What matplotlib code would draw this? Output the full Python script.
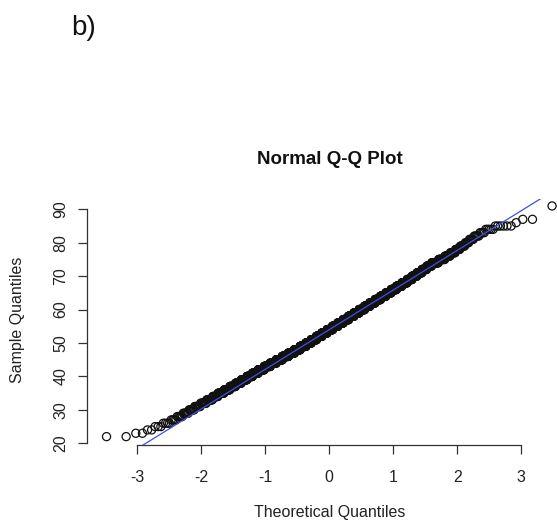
import numpy as np
import matplotlib
matplotlib.use("Agg")
import matplotlib.pyplot as plt
from statistics import NormalDist

sample_values = list(range(22, 92))
sample_counts = [2, 2, 2, 3, 4, 4, 5, 6, 7, 9,
                 11, 13, 14, 18, 20, 23, 26, 29, 32, 37,
                 42, 47, 51, 56, 60, 62, 64, 65, 63, 64,
                 66, 66, 67, 66, 66, 64, 63, 60, 59, 55,
                 53, 50, 47, 43, 40, 37, 33, 28, 25, 23,
                 20, 18, 22, 17, 12, 10, 8, 7, 5, 5,
                 5, 4, 5, 6, 1, 2, 0, 0, 0, 1]
x_ticks = [-3, -2, -1, 0, 1, 2, 3]
y_ticks = [20, 30, 40, 50, 60, 70, 80, 90]

plt.rcParams['font.family'] = ['Liberation Sans', 'DejaVu Sans']
txt = '#222222'

sample = np.repeat(sample_values, sample_counts).astype(float)
n = len(sample)
nd = NormalDist()
# R's ppoints for n > 10
theo = np.array([nd.inv_cdf((i - 0.5) / n) for i in range(1, n + 1)])

# qqline: through the first and third quartiles
q = np.quantile(sample, [0.25, 0.75])
z = np.array([nd.inv_cdf(0.25), nd.inv_cdf(0.75)])
slope = (q[1] - q[0]) / (z[1] - z[0])
intercept = q[0] - slope * z[0]

W, H = 557, 523
fig = plt.figure(figsize=(W / 100, H / 100), dpi=100)
ax = fig.add_axes([87 / W, 1 - 445 / H, (W - 87) / W, (445 - 198.5) / H])

ax.scatter(theo, sample, s=34, facecolors='none', edgecolors='#111111', linewidths=0.9, zorder=2)
xl = np.array([-5.0, 5.0])
ax.plot(xl, intercept + slope * xl, color='#4050e0', lw=0.9, zorder=3)

ax.set_xlim(-3.786, 3.558)
ax.set_ylim(19.49, 93.23)

for side in ['top', 'right']:
    ax.spines[side].set_visible(False)
ax.spines['left'].set_bounds(20, 90)
ax.spines['bottom'].set_bounds(-3, 3)
for side in ['left', 'bottom']:
    ax.spines[side].set_color('#333333')
    ax.spines[side].set_linewidth(0.9)

ax.set_xticks(x_ticks)
ax.set_xticklabels([str(v) for v in x_ticks])
ax.set_yticks(y_ticks)
ax.set_yticklabels([str(v) for v in y_ticks], rotation=90, va='center')
ax.tick_params(axis='both', length=6.3, width=0.9, color='#333333', labelsize=11.5, labelcolor=txt)
ax.tick_params(axis='x', pad=12)
ax.tick_params(axis='y', pad=7)

fig.text(330 / W, 1 - 513 / H, 'Theoretical Quantiles', ha='center', va='center', fontsize=11.5, color=txt)
fig.text(18 / W, 1 - 320 / H, 'Sample Quantiles', ha='center', va='center', rotation=90, fontsize=11.5, color=txt)
fig.text(330 / W, 1 - 159 / H, 'Normal Q-Q Plot', ha='center', va='center', fontsize=13.5,
         fontweight='bold', color='#111111')
fig.text(71 / W, 1 - 35 / H, 'b)', ha='left', va='baseline', fontsize=20, color='#111111')

fig.savefig('out.png', dpi=100)
